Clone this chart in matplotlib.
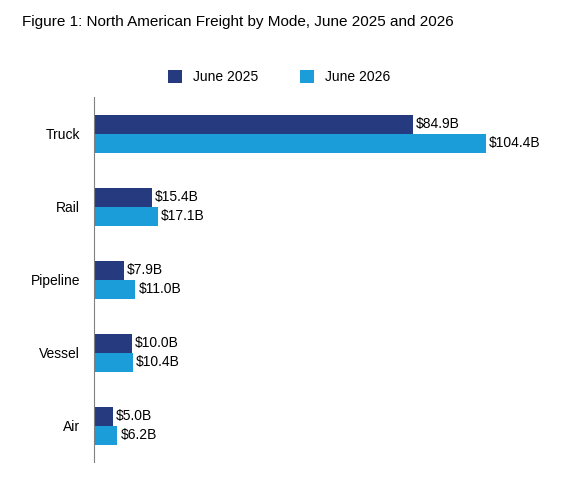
import matplotlib.pyplot as plt
import numpy as np

plt.rcParams['font.family'] = ['Liberation Sans', 'DejaVu Sans']

modes = ["Truck", "Rail", "Pipeline", "Vessel", "Air"]
june2025 = [84.9, 15.4, 7.9, 10.0, 5.0]
june2026 = [104.4, 17.1, 11.0, 10.4, 6.2]

dark = "#263a80"
light = "#1a9dd9"

fig = plt.figure(figsize=(5.70, 4.78), dpi=100)
ax = fig.add_axes([0.165, 0.033, 0.79, 0.764])

y = np.arange(len(modes))
h = 0.26
b1 = ax.barh(y - h / 2, june2025, height=h, color=dark, label="June 2025")
b2 = ax.barh(y + h / 2, june2026, height=h, color=light, label="June 2026")
for bars, vals in ((b1, june2025), (b2, june2026)):
    for bar, v in zip(bars, vals):
        ax.text(v + 0.8, bar.get_y() + bar.get_height() / 2, f"${v:.1f}B",
                va="center", ha="left", fontsize=10)

ax.set_xlim(0, 120)
ax.set_ylim(len(modes) - 0.5, -0.5)
ax.set_yticks(y)
ax.set_yticklabels(modes, fontsize=10)
ax.set_xticks([])
ax.tick_params(axis="y", length=0, pad=10)
for s in ("top", "right", "bottom"):
    ax.spines[s].set_visible(False)
ax.spines["left"].set_color("#808080")

fig.text(0.038, 0.955, "Figure 1: North American Freight by Mode, June 2025 and 2026",
         fontsize=11, va="center", ha="left")
fig.legend(handles=[b1, b2], loc="center", bbox_to_anchor=(0.49, 0.838), ncol=2,
           frameon=False, fontsize=10, handlelength=1.0, handleheight=1.0,
           columnspacing=3.0)

fig.savefig("out.png", dpi=100)
